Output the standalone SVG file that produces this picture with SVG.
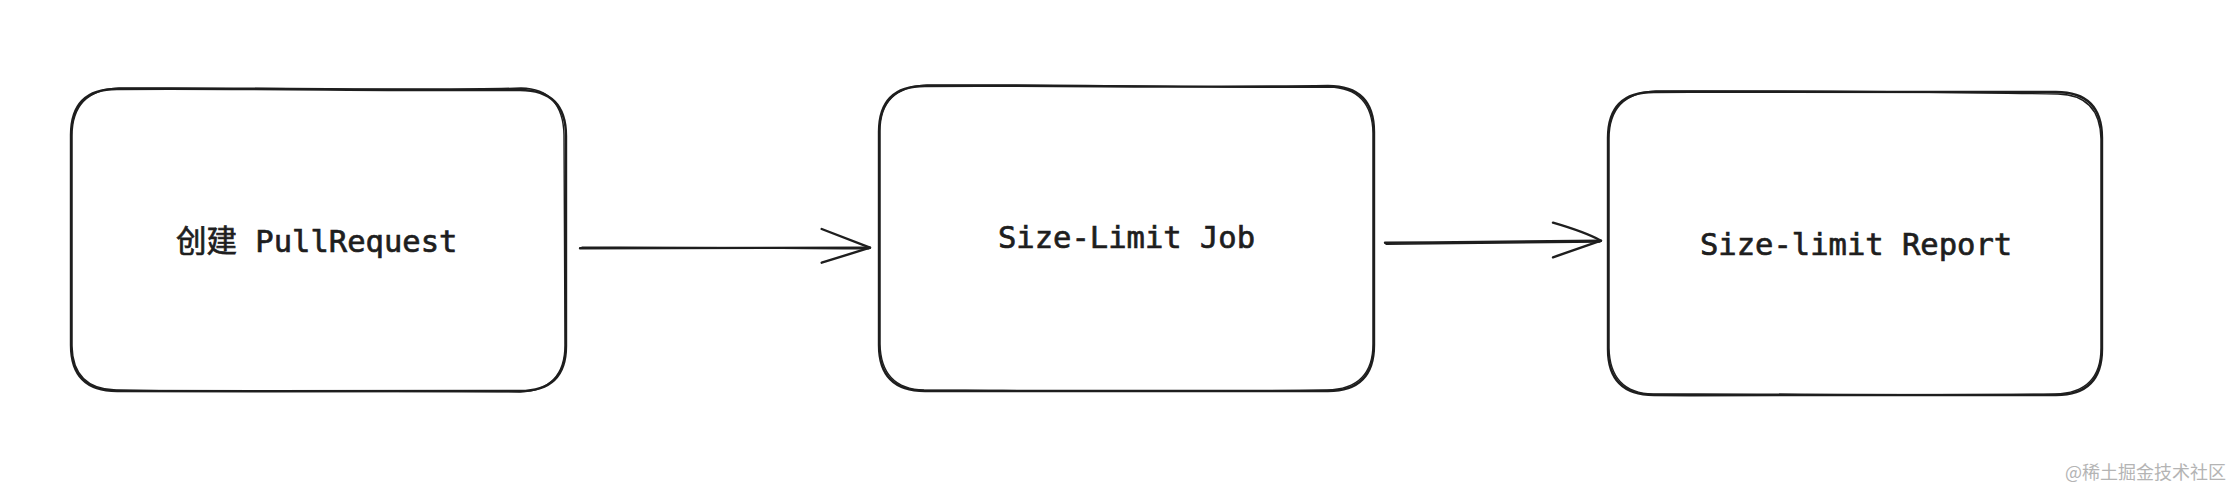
<svg xmlns="http://www.w3.org/2000/svg" width="2232" height="488" viewBox="0 0 2232 488">
  <style>
    .bg { fill: #ffffff; }
    .edge { fill: none; stroke: #1e1e1e; stroke-width: 2.4; stroke-linecap: round; stroke-linejoin: round; }
    .edge2 { fill: none; stroke: #1e1e1e; stroke-width: 1.4; stroke-linecap: round; stroke-linejoin: round; }
    .box { fill: #ffffff; }
    .label { font-family: "DejaVu Sans Mono", "Noto Sans CJK SC", monospace; font-size: 30.5px; fill: #1e1e1e; stroke: #1e1e1e; stroke-width: 0.7px; }
    .mark { font-family: "Noto Sans CJK SC", "Noto Sans", sans-serif; font-size: 18px; fill: #b4b4b4; }
  </style>
  <rect class="bg" x="0" y="0" width="2232" height="488"/>

  <g id="node-create-pr">
    <path class="box" d="M117,89 L520,90 Q566,90 566,136 L566,346 Q566,391 520,391 L117,391 Q71,391 71,345 L71,135 Q71,89 117,89 Z"/>
    <path class="edge" d="M117,89 C250,88 400,91 520,90 Q566,90 566,136 L566,346 Q566,391 520,391 C400,390 250,392 117,391 Q71,391 71,345 L71,135 Q71,89 117,89 Z"/>
    <path class="edge2" d="M119,88 C300,87 420,91 521,88 Q563,89 564,135 L565,345 Q565,390 520,392 C400,390 250,393 116,390 Q73,389 72,346 L72,136 Q72,90 119,88"/>
    <text class="label" x="176" y="252">创建 PullRequest</text>
  </g>

  <g id="node-size-limit-job">
    <path class="box" d="M925,86 L1328,86 Q1374,86 1374,132 L1374,345 Q1374,391 1328,391 L925,391 Q879,391 879,345 L879,132 Q879,86 925,86 Z"/>
    <path class="edge" d="M925,86 C1050,85 1200,88 1328,86 Q1374,86 1374,132 L1374,345 Q1374,391 1328,391 C1200,392 1050,390 925,391 Q879,391 879,345 L879,132 Q879,86 925,86 Z"/>
    <path class="edge2" d="M927,85 C1100,84 1250,89 1329,87 Q1372,88 1373,133 L1373,344 Q1373,389 1327,390 C1150,393 1000,390 924,390 Q881,389 880,344 L880,131 Q880,87 927,85"/>
    <text class="label" x="998" y="248">Size-Limit Job</text>
  </g>

  <g id="node-size-limit-report">
    <path class="box" d="M1654,92 L2056,92 Q2102,92 2102,138 L2102,349 Q2102,395 2056,395 L1654,395 Q1608,395 1608,349 L1608,138 Q1608,92 1654,92 Z"/>
    <path class="edge" d="M1654,92 C1800,91 1950,93 2056,92 Q2102,92 2102,138 L2102,349 Q2102,395 2056,395 C1950,394 1800,396 1654,395 Q1608,395 1608,349 L1608,138 Q1608,92 1654,92 Z"/>
    <path class="edge2" d="M1656,91 C1850,90 1980,93 2058,94 Q2100,95 2101,139 L2101,348 Q2101,393 2055,394 C1900,396 1750,393 1653,394 Q1610,393 1609,348 L1609,139 Q1609,93 1656,91"/>
    <text class="label" x="1700" y="254.5">Size-limit Report</text>
  </g>

  <g id="connectors">
    <path class="edge" d="M580,248.3 C680,248.5 780,247.5 870,247.7"/>
    <path class="edge2" d="M582,247.2 C700,246.5 800,249 869,248.7"/>
    <path class="edge" d="M821.7,229 L870,247.7 L821.7,262.7"/>
    <path class="edge" d="M1385,242.7 C1460,242.5 1540,241.5 1601,240.7"/>
    <path class="edge2" d="M1386,244.2 C1470,243.8 1550,242 1600,242"/>
    <path class="edge" d="M1553,222.7 Q1585,232 1601,240.7 Q1580,248 1553,257.3"/>
  </g>

  <text class="mark" x="2065" y="479">@稀土掘金技术社区</text>
</svg>
